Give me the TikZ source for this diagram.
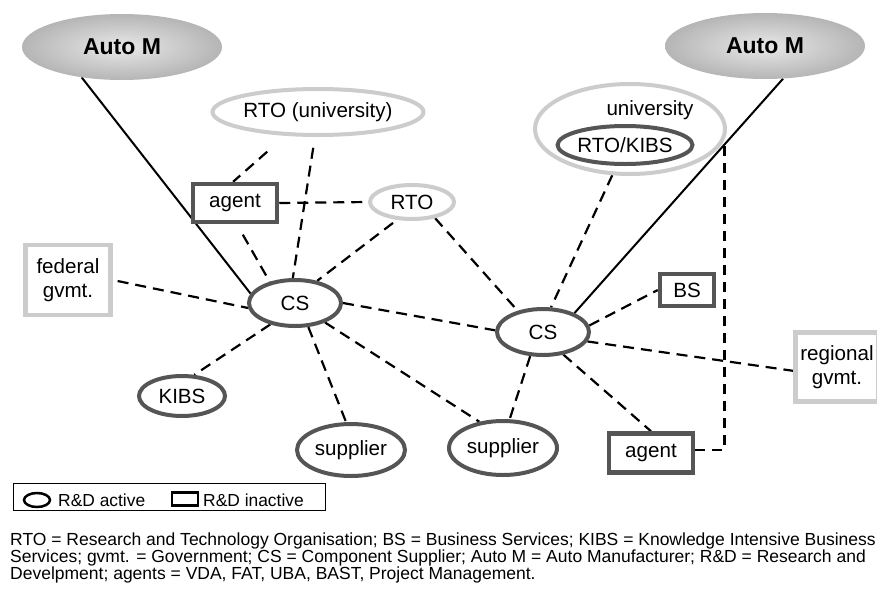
\documentclass[tikz,border=0pt]{standalone}
\usepackage{fontspec}
\setmainfont{Liberation Sans}
\usetikzlibrary{shapes.geometric,backgrounds,calc}
\definecolor{dk}{HTML}{555555}
\definecolor{lt}{HTML}{CCCCCC}
\begin{document}
\begin{tikzpicture}[x=1pt,y=-1pt,
  lab/.style={font=\fontsize{20.6}{24}\selectfont, inner sep=0pt, align=center},
  act/.style={ellipse, draw=dk, line width=4pt, fill=white, lab},
  inact/.style={rectangle, draw=dk, line width=4.5pt, fill=white, lab},
  actlt/.style={ellipse, draw=lt, line width=4pt, fill=white, lab},
  gov/.style={rectangle, draw=lt, line width=4.5pt, fill=white, lab},
  autom/.style={ellipse, inner color=gray!18, outer color=gray!58, font=\fontsize{23}{26}\selectfont\bfseries, inner sep=0pt, minimum width=200pt, minimum height=66pt},
  link/.style={line width=2.2pt, dash pattern=on 11pt off 7pt},
  tie/.style={line width=2pt},
  legtext/.style={anchor=west, font=\fontsize{17.4}{20}\selectfont, inner sep=0pt},
  fn/.style={anchor=north west, align=left, font={\fontsize{17.5}{16.6}\selectfont\lineskiplimit=-20pt\lineskip=0pt}, inner sep=0pt},
]
\useasboundingbox (0,0) rectangle (877,592);

% nodes
\node[autom] (AML) at (122,47) {Auto M};
\node[autom] (AMR) at (765,46) {Auto M};
\node[actlt, minimum width=190pt, minimum height=46pt] (RTOU) at (318,112) {RTO (university)};
\node[inact, minimum width=84pt, minimum height=38pt] (agL) at (235,203) {agent};
\node[actlt, minimum width=84pt, minimum height=34pt] (RTO) at (412,202) {RTO};
\node[actlt, minimum width=190pt, minimum height=90pt] (UNI) at (630,129) {};
\node[lab, anchor=base] (unitext) at (650,115) {university};
\node[act, minimum width=122pt, minimum height=38pt] (RK) at (625,145) {RTO/KIBS};
\node[gov, minimum width=85pt, minimum height=70pt] (FED) at (68,280) {federal\\gvmt.};
\node[act, minimum width=92pt, minimum height=46pt] (CSL) at (295,303) {CS};
\node[act, minimum width=86pt, minimum height=40pt] (KIBS) at (182,396) {KIBS};
\node[act, minimum width=108pt, minimum height=52pt] (SUPL) at (351,450) {supplier};
\node[act, minimum width=92pt, minimum height=46pt] (CSR) at (543,332) {CS};
\node[inact, minimum width=54pt, minimum height=32pt] (BS) at (687,290) {BS};
\node[gov, minimum width=83pt, minimum height=69pt] (REG) at (837,367) {regional\\gvmt.};
\node[act, minimum width=108pt, minimum height=54pt] (SUPR) at (503,448) {supplier};
\node[inact, minimum width=84pt, minimum height=39pt] (agR) at (651,453) {agent};

% legend
\node[draw, line width=1pt, minimum width=312pt, minimum height=27pt, inner sep=0pt, anchor=north west] (leg) at (12.7,483) {};
\node[ellipse, draw=black, line width=2.5pt, minimum width=26pt, minimum height=14pt, inner sep=0pt] (legA) at (37,500) {};
\node[legtext] (legAt) at (58,500) {R\&D active};
\node[draw=black, line width=2.5pt, minimum width=26pt, minimum height=13pt, inner sep=0pt] (legI) at (185,499) {};
\node[legtext] (legIt) at (203,500) {R\&D inactive};

% footnote
\node[fn] (fn) at (10,533) {RTO = Research and Technology Organisation; BS = Business Services; KIBS = Knowledge Intensive Business\\Services; gvmt. = Government; CS = Component Supplier; Auto M = Auto Manufacturer; R\&D = Research and\\Develpment; agents = VDA, FAT, UBA, BAST, Project Management.};

\coordinate (J) at ($(AMR.299)!0.28!(CSR.31)$);

\begin{pgfonlayer}{background}
\fill[white] (0,0) rectangle (877,592);
\draw[tie] (AML.217) -- (CSL.168);
\draw[tie] (AMR.299) -- (CSR.31);
\draw[link, shorten <=24pt] (RTOU.216) -- (agL.95);
\draw[link, shorten <=11pt] (RTOU.263) -- (CSL.95);
\draw[link] (agL.east) -- (RTO.180);
\draw[link, shorten <=12pt] (agL.275) -- (CSL.140);
\draw[link, shorten <=5pt] (RTO.230) -- (CSL.45);
\draw[link] (RTO.325) -- (CSR.140);
\draw[link] (UNI.249) -- (CSR.72);
\draw[link, shorten <=5pt] (FED.east) -- (CSL.186);
\draw[link] (CSL.0) -- (CSR.178);
\draw[link] (CSL.221) -- (KIBS.60);
\draw[link] (CSL.299) -- (SUPL.100);
\draw[link] (CSL.327) -- (SUPR.132);
\draw[link] (CSR.242) -- (SUPR.77);
\draw[link] (CSR.312) -- (agR.north);
\draw[link] (CSR.8) -- (BS.west);
\draw[link] (CSR.348) -- (REG.185);
\draw[link, line width=2.8pt, dash pattern=on 10pt off 7pt] ([yshift=3pt]agR.east) -| (J);
\end{pgfonlayer}
\end{tikzpicture}
\end{document}
